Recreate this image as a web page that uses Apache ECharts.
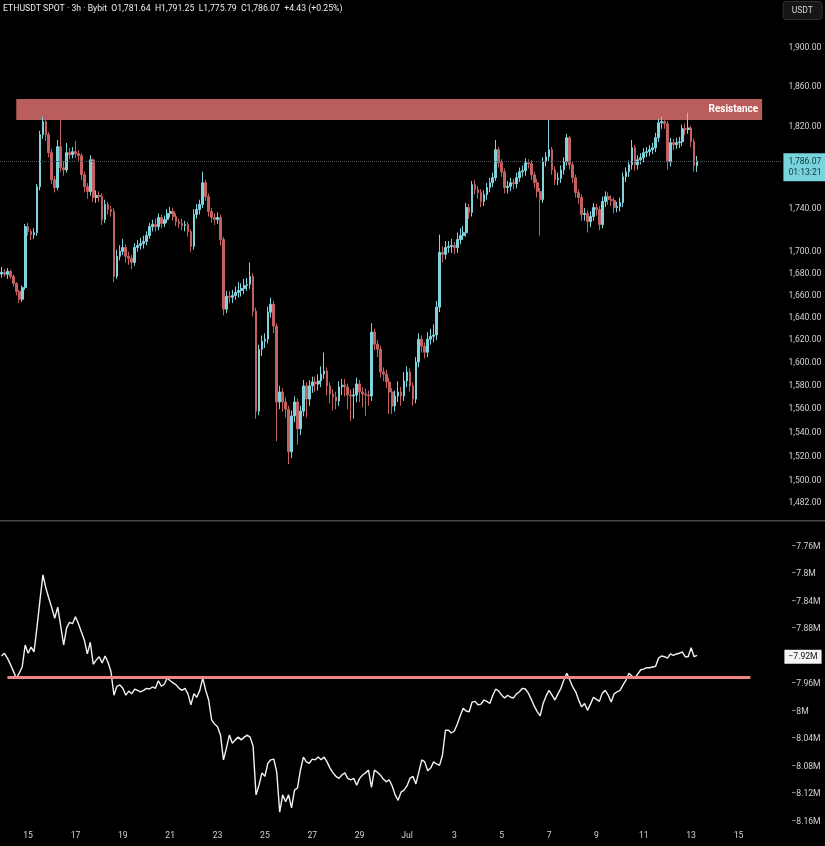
<!DOCTYPE html>
<html>
<head>
<meta charset="utf-8">
<script src="https://cdn.jsdelivr.net/npm/echarts@6.0.0/dist/echarts.min.js"></script>
<style>
  html, body { margin: 0; padding: 0; background: #000; }
  #main { width: 825px; height: 846px; }
</style>
</head>
<body>
<div id="main"></div>
<script>
// 3h candles, slot 0 = Jun 13 21:00
var opens = [
1679.5,1681.0,1679.2,1682.0,1677.4,1670.9,1663.6,1656.5,1667.2,1723.5,
1718.8,1716.0,1717.8,1761.5,1812.2,1825.0,1812.2,1794.5,1768.2,1760.6,
1800.4,1779.7,1777.7,1794.5,1792.5,1795.5,1793.5,1791.6,1772.9,1761.5,
1756.8,1787.5,1751.1,1753.0,1752.0,1730.1,1744.4,1739.7,1737.8,1677.4,
1695.8,1700.4,1704.0,1695.8,1693.9,1690.2,1704.0,1705.9,1707.7,1709.6,
1715.1,1723.5,1725.4,1723.5,1732.1,1726.4,1730.1,1735.9,1737.8,1733.0,
1728.2,1726.4,1724.5,1725.4,1718.8,1705.0,1734.9,1739.7,1744.4,1765.3,
1752.0,1737.8,1732.1,1730.1,1732.1,1711.4,1647.6,1659.2,1658.3,1660.0,
1662.7,1664.5,1666.3,1669.1,1670.0,1677.4,1645.8,1558.4,1611.9,1619.0,
1620.8,1644.9,1652.0,1632.4,1566.2,1574.8,1566.2,1560.1,1524.2,1554.3,
1566.2,1543.4,1558.4,1580.0,1568.7,1580.0,1583.4,1581.7,1584.3,1590.3,
1592.9,1580.0,1573.1,1570.5,1567.0,1579.1,1580.8,1579.1,1572.2,1571.3,
1572.2,1581.7,1574.8,1573.1,1572.2,1571.3,1627.1,1616.4,1611.9,1592.1,
1590.3,1583.4,1574.8,1562.7,1571.3,1574.8,1571.3,1584.3,1592.1,1580.0,
1568.7,1600.7,1620.8,1614.6,1609.3,1620.8,1623.4,1624.6,1649.4,1699.4,
1697.6,1704.0,1705.0,1705.9,1703.8,1711.4,1715.1,1717.8,1741.6,1736.8,
1763.4,1758.7,1755.8,1747.3,1753.9,1760.6,1765.3,1770.1,1797.4,1784.6,
1775.8,1760.6,1761.8,1765.3,1764.4,1770.1,1775.8,1776.9,1784.6,1783.6,
1772.9,1765.3,1756.8,1749.2,1785.6,1790.5,1797.4,1777.7,1768.2,1769.5,
1777.7,1785.6,1809.2,1782.6,1770.1,1755.8,1751.1,1734.9,1735.9,1728.2,
1733.0,1741.6,1739.7,1725.4,1747.3,1752.0,1749.2,1748.2,1741.6,1742.6,
1746.3,1771.0,1775.8,1782.6,1799.3,1782.6,1787.5,1789.5,1794.5,1795.5,
1797.4,1799.3,1809.2,1824.0,1825.3,1823.0,1785.6,1804.3,1802.3,1804.3,
1805.1,1818.1,1817.4,1818.9,1805.3,1781.64
];
var closes = [
1681.0,1679.2,1682.0,1677.4,1670.9,1663.6,1656.5,1667.2,1723.5,1718.8,
1716.0,1717.8,1761.5,1812.2,1825.0,1812.2,1794.5,1768.2,1760.6,1800.4,
1779.7,1777.7,1794.5,1792.5,1795.5,1793.5,1791.6,1772.9,1761.5,1756.8,
1787.5,1751.1,1753.0,1752.0,1730.1,1744.4,1739.7,1737.8,1677.4,1695.8,
1700.4,1704.0,1695.8,1693.9,1690.2,1704.0,1705.9,1707.7,1709.6,1715.1,
1723.5,1725.4,1723.5,1732.1,1726.4,1730.1,1735.9,1737.8,1733.0,1728.2,
1726.4,1724.5,1725.4,1718.8,1705.0,1734.9,1739.7,1744.4,1765.3,1752.0,
1737.8,1732.1,1730.1,1732.1,1711.4,1647.6,1659.2,1658.3,1660.0,1662.7,
1664.5,1666.3,1669.1,1670.0,1677.4,1645.8,1558.4,1611.9,1619.0,1620.8,
1644.9,1652.0,1632.4,1566.2,1574.8,1566.2,1560.1,1524.2,1554.3,1566.2,
1543.4,1558.4,1580.0,1568.7,1580.0,1583.4,1581.7,1584.3,1590.3,1592.9,
1580.0,1573.1,1570.5,1567.0,1579.1,1580.8,1579.1,1572.2,1571.3,1572.2,
1581.7,1574.8,1573.1,1572.2,1571.3,1627.1,1616.4,1611.9,1592.1,1590.3,
1583.4,1574.8,1562.7,1571.3,1574.8,1571.3,1584.3,1592.1,1580.0,1568.7,
1600.7,1620.8,1614.6,1609.3,1620.8,1623.4,1624.6,1649.4,1699.4,1697.6,
1704.0,1705.0,1705.9,1703.8,1711.4,1715.1,1717.8,1741.6,1736.8,1763.4,
1758.7,1755.8,1747.3,1753.9,1760.6,1765.3,1770.1,1797.4,1784.6,1775.8,
1760.6,1761.8,1765.3,1764.4,1770.1,1775.8,1776.9,1784.6,1783.6,1772.9,
1765.3,1756.8,1749.2,1785.6,1790.5,1797.4,1777.7,1768.2,1769.5,1777.7,
1785.6,1809.2,1782.6,1770.1,1755.8,1751.1,1734.9,1735.9,1728.2,1733.0,
1741.6,1739.7,1725.4,1747.3,1752.0,1749.2,1748.2,1741.6,1742.6,1746.3,
1771.0,1775.8,1782.6,1799.3,1782.6,1787.5,1789.5,1794.5,1795.5,1797.4,
1799.3,1809.2,1824.0,1825.3,1823.0,1785.6,1804.3,1802.3,1804.3,1805.1,
1818.1,1817.4,1818.9,1805.3,1781.64,1786.07
];
var highs = [
1686,1684,1685,1683.5,1679,1672,1665,1669,1726,1727,
1721,1722,1764,1816,1830,1828,1815,1798,1772,1807,
1829,1786,1804,1799,1800,1806,1797,1794,1776,1765,
1792,1789,1758,1757,1755,1749,1747,1743,1741,1702,
1706,1712,1707,1700,1697,1708,1711,1713,1715,1719,
1727,1730,1731,1736,1735,1734,1740,1742,1741,1736,
1731,1731,1729,1728,1721,1740,1745,1749,1776,1768,
1755,1741,1736,1737,1735,1714,1664,1664,1665,1668,
1672,1671,1675,1676,1690,1680,1649,1616,1624,1626,
1650,1658,1655,1635,1580,1578,1570,1563,1559,1571,
1569,1563,1585,1583,1585,1588,1588,1590,1597,1609,
1596,1583,1577,1575,1584,1586,1586,1582,1577,1578,
1587,1585,1579,1578,1576,1635,1630,1620,1615,1596,
1594,1587,1578,1576,1584,1579,1592,1597,1595,1583,
1605,1626,1624,1618,1627,1630,1634,1655,1716,1705,
1710,1710,1712,1709,1718,1722,1724,1746,1745,1767,
1768,1762,1759,1758,1765,1770,1775,1807,1800,1788,
1779,1767,1770,1769,1775,1780,1782,1789,1788,1787,
1776,1769,1760,1790,1795,1827,1800,1781,1775,1782,
1790,1813,1811,1786,1773,1759,1754,1741,1739,1738,
1746,1745,1743,1752,1757,1756,1753,1751,1747,1751,
1775,1780,1787,1807,1802,1792,1794,1799,1800,1802,
1804,1814,1828,1830,1829,1826,1809,1808,1809,1810,
1822,1823,1834,1821,1808,1791.25
];
var lows = [
1676,1677,1675,1675,1668,1660,1653,1654,1665,1715,
1711,1712,1715,1758,1808,1806,1790,1764,1756,1758,
1776,1772,1775,1788,1789,1789,1786,1768,1756,1750,
1753,1747,1746,1747,1725,1727,1735,1733,1672,1675,
1692,1697,1690,1688,1684,1687,1700,1702,1703,1706,
1712,1719,1719,1720,1722,1723,1727,1732,1729,1724,
1722,1720,1719,1714,1700,1702,1731,1735,1741,1748,
1733,1727,1725,1726,1706,1642,1644,1653,1653,1656,
1658,1659,1661,1664,1666,1641,1552,1555,1606,1613,
1617,1640,1626,1533,1560,1558,1553,1514,1519,1549,
1530,1538,1554,1553,1563,1574,1575,1576,1579,1586,
1572,1565,1559,1560,1563,1572,1571,1560,1550,1552,
1566,1566,1562,1554,1563,1567,1611,1605,1587,1584,
1578,1556,1556,1558,1566,1563,1567,1579,1575,1563,
1565,1596,1609,1604,1605,1616,1618,1620,1645,1690,
1693,1699,1699,1698,1699,1707,1711,1714,1731,1733,
1754,1750,1742,1743,1749,1756,1761,1767,1780,1771,
1755,1755,1757,1759,1760,1766,1771,1772,1779,1768,
1760,1751,1715,1746,1781,1786,1773,1763,1763,1765,
1773,1782,1778,1765,1751,1745,1729,1729,1718,1723,
1729,1734,1720,1722,1742,1744,1743,1736,1737,1738,
1742,1766,1771,1778,1777,1778,1783,1785,1790,1791,
1793,1795,1805,1818,1818,1778,1781,1797,1798,1799,
1801,1812,1813,1800,1776,1775.79
];
// lower pane line, millions
var cvd = [
-7.919,-7.915,-7.922,-7.931,-7.941,-7.951,-7.944,-7.935,-7.903,-7.915,
-7.906,-7.913,-7.877,-7.838,-7.801,-7.820,-7.835,-7.849,-7.864,-7.848,
-7.875,-7.903,-7.878,-7.870,-7.872,-7.862,-7.872,-7.884,-7.896,-7.916,
-7.899,-7.931,-7.925,-7.920,-7.929,-7.919,-7.928,-7.942,-7.976,-7.963,
-7.961,-7.966,-7.976,-7.970,-7.974,-7.967,-7.969,-7.971,-7.969,-7.966,
-7.967,-7.964,-7.966,-7.955,-7.963,-7.960,-7.951,-7.955,-7.958,-7.961,
-7.966,-7.969,-7.966,-7.974,-7.990,-7.974,-7.979,-7.969,-7.951,-7.969,
-7.983,-8.012,-8.018,-8.022,-8.034,-8.070,-8.053,-8.034,-8.046,-8.041,
-8.037,-8.041,-8.037,-8.034,-8.037,-8.050,-8.121,-8.107,-8.089,-8.094,
-8.075,-8.070,-8.069,-8.088,-8.146,-8.121,-8.131,-8.121,-8.140,-8.114,
-8.111,-8.085,-8.066,-8.073,-8.075,-8.069,-8.070,-8.066,-8.070,-8.066,
-8.073,-8.082,-8.089,-8.094,-8.097,-8.092,-8.089,-8.097,-8.099,-8.097,
-8.107,-8.097,-8.092,-8.089,-8.085,-8.110,-8.085,-8.088,-8.092,-8.098,
-8.102,-8.099,-8.108,-8.121,-8.129,-8.117,-8.114,-8.108,-8.097,-8.094,
-8.105,-8.088,-8.070,-8.073,-8.086,-8.082,-8.073,-8.076,-8.078,-8.063,
-8.027,-8.027,-8.031,-8.028,-8.018,-8.006,-7.995,-7.999,-8.000,-7.986,
-7.985,-7.990,-7.989,-7.983,-7.985,-7.988,-7.976,-7.967,-7.970,-7.976,
-7.980,-7.976,-7.979,-7.980,-7.974,-7.971,-7.966,-7.967,-7.973,-7.982,
-7.992,-8.000,-8.006,-7.988,-7.977,-7.969,-7.976,-7.983,-7.974,-7.966,
-7.954,-7.944,-7.954,-7.964,-7.971,-7.983,-7.993,-7.988,-7.998,-7.989,
-7.979,-7.982,-7.985,-7.973,-7.969,-7.976,-7.986,-7.974,-7.971,-7.969,
-7.961,-7.954,-7.944,-7.948,-7.951,-7.945,-7.939,-7.938,-7.936,-7.936,
-7.935,-7.934,-7.922,-7.919,-7.920,-7.922,-7.916,-7.918,-7.916,-7.915,
-7.913,-7.920,-7.920,-7.907,-7.920,-7.918
];
var priceTicks = [1900, 1860, 1820, 1740, 1700, 1680, 1660, 1640, 1620, 1600, 1580, 1560, 1540, 1520, 1500, 1482];
var resistance = [1826.8, 1847.8];
var cvdLevel = -7.95;
var lastClose = 1786.07;
var lastCvd = -7.918;

var startTime = Date.UTC(2023, 5, 13, 21);
var slotCount = 264;
var categories = [];
for (var i = 0; i < slotCount; i++) {
  categories.push(String(startTime + i * 3 * 3600 * 1000));
}

var candles = [];
for (var j = 0; j < closes.length; j++) {
  candles.push([opens[j], closes[j], lows[j], highs[j]]);
}

var font = 'Roboto, "Liberation Sans", sans-serif';
var UP = '#7fd3dc', DOWN = '#c4605f';
var HIDDEN = {color: 'rgba(0,0,0,0)', width: 0};

function fmtPrice(v) {
  return v.toLocaleString('en-US', {minimumFractionDigits: 2, maximumFractionDigits: 2});
}
function fmtM(v) {
  return '\u2212' + Math.abs(Math.round(v * 100) / 100) + 'M';
}

// price scale labels (axis is log, so ticks go through markLine)
var tickLines = priceTicks.map(function (v) {
  return {
    yAxis: v,
    lineStyle: HIDDEN,
    label: {show: true, position: 'end', distance: 7, formatter: fmtPrice(v),
      color: '#d2d2d2', fontSize: 8.6, fontFamily: font}
  };
});
tickLines.push({
  yAxis: lastClose,
  lineStyle: {color: '#4d5560', type: 'dotted', width: 1},
  label: {show: true, position: 'end', distance: 2, formatter: fmtPrice(lastClose) + '\n01:13:21',
    color: '#10363b', backgroundColor: '#79d4de', padding: [3, 5, 3, 5], lineHeight: 11,
    fontSize: 8.6, fontFamily: font, align: 'left', verticalAlign: 'top', offset: [0, -8]}
});

var myChart = echarts.init(document.getElementById('main'));
var option = {
  backgroundColor: '#000',
  animation: false,
  title: [{
    text: 'ETHUSDT SPOT \u00b7 3h \u00b7 Bybit  O1,781.64  H1,791.25  L1,775.79  C1,786.07  +4.43 (+0.25%)',
    left: 3, top: 4, padding: 0,
    textStyle: {color: '#ececec', fontSize: 8.7, fontWeight: 'normal', fontFamily: font}
  }, {
    text: 'USDT',
    right: 3, top: 1, padding: [5, 9, 5, 9],
    backgroundColor: '#161616', borderColor: '#2e2e2e', borderWidth: 1, borderRadius: 3,
    textStyle: {color: '#d2d2d2', fontSize: 8.6, fontWeight: 'normal', fontFamily: font}
  }],
  graphic: [{
    type: 'rect', shape: {x: 0, y: 520, width: 825, height: 1.5},
    style: {fill: '#474747'}, silent: true
  }],
  grid: [
    {left: 0, right: 43.6, top: 0, height: 520},
    {left: 0, right: 43.6, top: 546.7, height: 275}
  ],
  xAxis: [{
    type: 'category', gridIndex: 0, data: categories,
    axisLine: {show: false}, axisTick: {show: false}, axisLabel: {show: false}, splitLine: {show: false}
  }, {
    type: 'category', gridIndex: 1, data: categories,
    axisLine: {show: false}, axisTick: {show: false}, splitLine: {show: false},
    axisLabel: {
      color: '#d2d2d2', fontSize: 8.6, fontFamily: font, margin: 10, hideOverlap: false,
      interval: function (index, value) {
        var d = new Date(+value);
        return d.getUTCHours() === 0 && d.getUTCDate() % 2 === 1;
      },
      formatter: function (value) {
        var d = new Date(+value);
        return d.getUTCDate() === 1 ? 'Jul' : String(d.getUTCDate());
      }
    }
  }],
  yAxis: [{
    type: 'log', gridIndex: 0, position: 'right', logBase: 10,
    min: 1468.5, max: 1950.4,
    axisLine: {show: false}, axisTick: {show: false}, axisLabel: {show: false}, splitLine: {show: false}
  }, {
    type: 'value', gridIndex: 1, position: 'right',
    min: -8.16, max: -7.76, interval: 0.04,
    axisLine: {show: false}, axisTick: {show: false}, splitLine: {show: false},
    axisLabel: {
      color: '#d2d2d2', fontSize: 8.6, fontFamily: font, margin: 10,
      formatter: function (v) {
        if (Math.abs(v - (-7.92)) < 0.001) return '';
        return fmtM(v);
      }
    }
  }],
  series: [{
    type: 'candlestick',
    xAxisIndex: 0, yAxisIndex: 0,
    data: candles,
    barWidth: 2.2,
    itemStyle: {color: UP, color0: DOWN, borderColor: UP, borderColor0: DOWN, borderWidth: 1},
    markArea: {
      silent: true,
      itemStyle: {color: 'rgba(200, 100, 100, 0.93)'},
      label: {show: true, position: 'insideRight', distance: 4, color: '#fff', fontWeight: 'bold', fontSize: 10, fontFamily: font},
      data: [[{name: 'Resistance', xAxis: 5, yAxis: resistance[0]}, {xAxis: 257, yAxis: resistance[1]}]]
    },
    markLine: {
      silent: true, symbol: ['none', 'none'],
      data: tickLines
    }
  }, {
    type: 'line',
    xAxisIndex: 1, yAxisIndex: 1,
    data: cvd,
    showSymbol: false,
    lineStyle: {color: '#f2f2f2', width: 1.4},
    markLine: {
      silent: true, symbol: ['none', 'none'],
      data: [
        [{coord: [2, cvdLevel], lineStyle: {color: '#f08585', width: 3, type: 'solid'}, label: {show: false}},
         {coord: [253, cvdLevel]}],
        {yAxis: lastCvd, lineStyle: HIDDEN,
         label: {show: true, position: 'end', distance: 3, formatter: fmtM(lastCvd),
           color: '#111', backgroundColor: '#f4f4f4', padding: [3, 4, 2, 4], fontSize: 8.6, fontFamily: font}}
      ]
    }
  }]
};
myChart.setOption(option);
</script>
</body>
</html>
